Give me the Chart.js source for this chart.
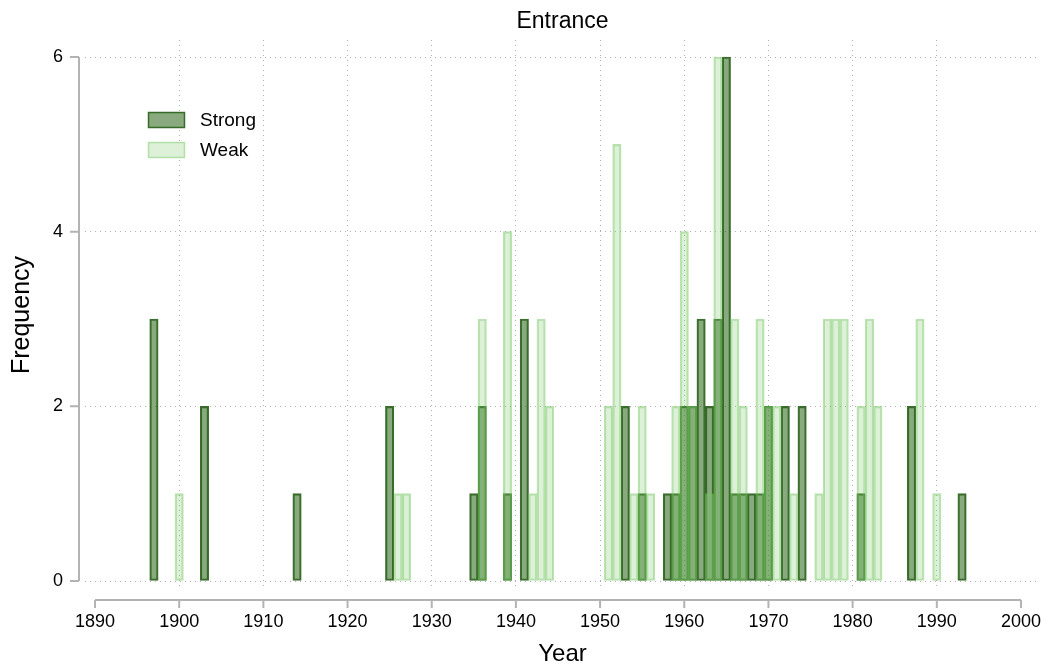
<!DOCTYPE html>
<html><head><meta charset="utf-8">
<script src="https://cdn.jsdelivr.net/npm/chart.js@4/dist/chart.umd.min.js"></script>
<style>html,body{margin:0;padding:0;background:#fff}#wrap{width:1049px;height:670px}</style>
</head><body><div id="wrap"><canvas id="c" width="1049" height="670"></canvas></div>
<script>
const strongYears  = [1897,1903,1914,1925,1935,1936,1939,1941,1953,1955,1958,1959,1960,1961,1962,1963,1964,1965,1966,1967,1968,1969,1970,1972,1974,1981,1987,1993];
const strongCounts = [3,   2,   1,   2,   1,   2,   1,   3,   2,   1,   1,   1,   2,   2,   3,   2,   3,   6,   1,   1,   1,   1,   2,   2,   2,   1,   2,   1];
const weakYears  = [1900,1926,1927,1936,1939,1942,1943,1944,1951,1952,1954,1955,1956,1959,1960,1961,1963,1964,1966,1967,1969,1970,1971,1973,1976,1977,1978,1979,1981,1982,1983,1988,1990];
const weakCounts = [1,   1,   1,   3,   4,   1,   3,   2,   2,   5,   1,   2,   1,   2,   4,   2,   1,   6,   3,   2,   3,   2,   2,   1,   1,   3,   3,   3,   2,   3,   2,   3,   1];
const xTickValues = [1890,1900,1910,1920,1930,1940,1950,1960,1970,1980,1990,2000];
const yTickValues = [0,2,4,6];
const seriesNames = ['Strong','Weak'];
const titleText = 'Entrance';
const xTitle = 'Year';
const yTitle = 'Frequency';

const FONT = "'Liberation Sans', Arial, Helvetica, sans-serif";

const axesPlugin = {
  id: 'stataAxes',
  afterDraw(chart) {
    const {ctx, chartArea, scales: {x, y}} = chart;
    ctx.save();
    ctx.strokeStyle = '#b3b3b3';
    ctx.lineWidth = 2;
    const ay = chartArea.bottom + 10;
    const x0 = x.getPixelForValue(xTickValues[0]);
    const x1 = x.getPixelForValue(xTickValues[xTickValues.length - 1]);
    ctx.beginPath();
    ctx.moveTo(x0, ay); ctx.lineTo(x1, ay);
    xTickValues.forEach(v => { const px = x.getPixelForValue(v); ctx.moveTo(px, ay); ctx.lineTo(px, ay + 8); });
    ctx.stroke();
    const ax = chartArea.left - 6;
    const y0 = y.getPixelForValue(yTickValues[0]);
    const y1 = y.getPixelForValue(yTickValues[yTickValues.length - 1]);
    ctx.beginPath();
    ctx.moveTo(ax, y0); ctx.lineTo(ax, y1);
    yTickValues.forEach(v => { const py = y.getPixelForValue(v); ctx.moveTo(ax, py); ctx.lineTo(ax - 9, py); });
    ctx.stroke();
    ctx.restore();
  }
};

const legendPlugin = {
  id: 'insideLegend',
  afterDraw(chart) {
    const {ctx, chartArea} = chart;
    ctx.save();
    const bx = chartArea.left + 63.5, by0 = chartArea.top + 72.5, gap = 30;
    chart.data.datasets.forEach((ds, i) => {
      const by = by0 + i * gap;
      ctx.fillStyle = '#fff';
      ctx.fillRect(bx, by, 36, 15);
      ctx.fillStyle = ds.backgroundColor;
      ctx.fillRect(bx, by, 36, 15);
      ctx.strokeStyle = ds.borderColor;
      ctx.lineWidth = 1.5;
      ctx.strokeRect(bx, by, 36, 15);
      ctx.fillStyle = '#000';
      ctx.font = '19px ' + FONT;
      ctx.textBaseline = 'middle';
      ctx.textAlign = 'left';
      ctx.fillText(ds.label, bx + 51.5, by + 8);
    });
    ctx.restore();
  }
};

new Chart(document.getElementById('c'), {
  type: 'bar',
  data: {
    datasets: [
      {
        label: seriesNames[0],
        data: strongYears.map((yr, i) => ({x: yr, y: strongCounts[i]})),
        backgroundColor: 'rgba(40,100,20,0.55)',
        borderColor: 'rgba(40,95,25,0.9)',
        borderWidth: 1.5,
        borderSkipped: false,
        grouped: false,
        barPercentage: 1,
        categoryPercentage: 1,
        order: 1
      },
      {
        label: seriesNames[1],
        data: weakYears.map((yr, i) => ({x: yr, y: weakCounts[i]})),
        backgroundColor: 'rgba(120,200,100,0.25)',
        borderColor: 'rgba(120,200,100,0.5)',
        borderWidth: 1.5,
        borderSkipped: false,
        grouped: false,
        barPercentage: 1,
        categoryPercentage: 1,
        order: 0
      }
    ]
  },
  options: {
    responsive: false,
    animation: false,
    devicePixelRatio: 1,
    layout: {padding: {left: 0, right: 9, top: 0, bottom: 0}},
    plugins: {
      legend: {display: false},
      tooltip: {enabled: false},
      title: {
        display: true, text: titleText, fullSize: false,
        color: '#000', font: {family: FONT, size: 23, weight: 'normal'},
        padding: {top: 8, bottom: 4.4}
      }
    },
    scales: {
      x: {
        type: 'linear',
        min: 1888.81, max: 2002.26,
        offset: false,
        afterBuildTicks: s => { s.ticks = xTickValues.map(v => ({value: v})); },
        afterFit: s => { s.height = 80; s.paddingLeft = 0; s.paddingRight = 0; },
        border: {display: false, dash: [1, 4]},
        grid: {
          offset: false, drawTicks: false,
          color: c => (c.tick && (c.tick.value === 1890 || c.tick.value === 2000)) ? 'rgba(0,0,0,0)' : '#b0b0b0',
          lineWidth: 1
        },
        ticks: {
          color: '#000', font: {family: FONT, size: 18}, padding: 21,
          maxRotation: 0, autoSkip: false,
          callback: v => String(v)
        },
        title: {display: true, text: xTitle, color: '#000', font: {family: FONT, size: 24}, padding: {top: 0, bottom: 1}}
      },
      y: {
        min: -0.103, max: 6.195,
        afterBuildTicks: s => { s.ticks = yTickValues.map(v => ({value: v})); },
        afterFit: s => { s.width = 85; s.paddingTop = 0; s.paddingBottom = 0; },
        border: {display: false, dash: [1, 4]},
        grid: {drawTicks: false, color: '#b0b0b0', lineWidth: 1},
        ticks: {color: '#000', font: {family: FONT, size: 18}, padding: 22, callback: v => String(v)},
        title: {display: true, text: yTitle, color: '#000', font: {family: FONT, size: 25}, padding: {top: 7, bottom: 0}}
      }
    }
  },
  plugins: [axesPlugin, legendPlugin]
});
</script>
</body></html>
